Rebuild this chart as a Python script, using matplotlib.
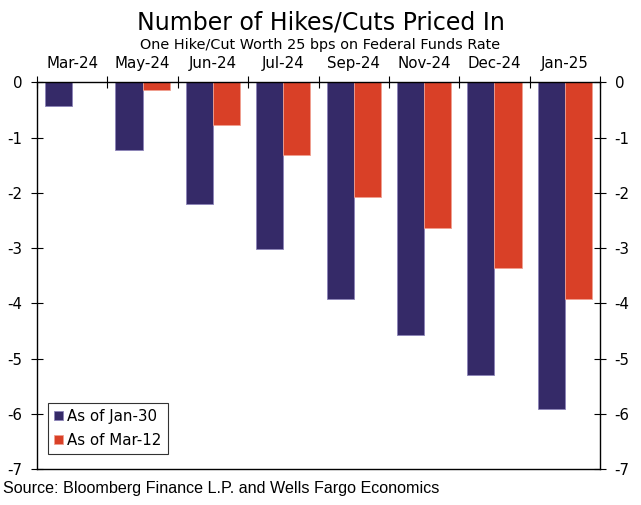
import numpy as np
import matplotlib.pyplot as plt

# data
categories = ['Mar-24', 'May-24', 'Jun-24', 'Jul-24', 'Sep-24', 'Nov-24', 'Dec-24', 'Jan-25']
jan30 = [-0.42, -1.23, -2.20, -3.02, -3.93, -4.58, -5.29, -5.92]
mar12 = [0.0, -0.14, -0.77, -1.32, -2.08, -2.63, -3.36, -3.93]
series_labels = ['As of Jan-30', 'As of Mar-12']

blue = '#352a68'
red = '#d94027'

plt.rcParams['axes.unicode_minus'] = False

fig = plt.figure(figsize=(6.41, 5.05), dpi=100)
ax = fig.add_axes([37 / 641, 1 - 469 / 505, 563 / 641, (469 - 82.3) / 505])

x = np.arange(len(categories))
w = 0.385
ax.bar(x - w / 2, jan30, w, color=blue, edgecolor='#8c84b8', linewidth=0.6, label=series_labels[0])
ax.bar(x + w / 2, mar12, w, color=red, edgecolor='#f0a090', linewidth=0.6, label=series_labels[1])

ax.set_xlim(-0.5, len(categories) - 0.5)
ax.set_ylim(-7, 0)

# category labels above, ticks at boundaries
ax.xaxis.tick_top()
ax.set_xticks(x)
ax.set_xticklabels(categories, fontsize=10.8)
ax.tick_params(axis='x', which='major', length=0, pad=8)
ax.set_xticks(np.arange(len(categories) + 1) - 0.5, minor=True)
ax.tick_params(axis='x', which='minor', direction='inout', length=9, width=0.8, top=True)

ax.set_yticks(np.arange(-7, 1))
ax.tick_params(axis='y', direction='inout', length=9, width=0.8, labelsize=10.8,
               left=True, right=True, labelleft=True, labelright=True, pad=6)
for s in ax.spines.values():
    s.set_linewidth(1.0)

leg = ax.legend(loc='lower left', bbox_to_anchor=(0.006, 0.02), fontsize=10.8,
                handlelength=0.6, handleheight=0.6, handletextpad=0.3,
                fancybox=False, edgecolor='black', borderpad=0.4, labelspacing=0.6)
leg.get_frame().set_linewidth(0.8)

fig.text(0.5, 1 - 22 / 505, 'Number of Hikes/Cuts Priced In', ha='center', va='center', fontsize=17)
fig.text(0.5, 1 - 45 / 505, 'One Hike/Cut Worth 25 bps on Federal Funds Rate', ha='center', va='center', fontsize=10.4)
fig.text(3 / 641, 1 - 489 / 505, 'Source: Bloomberg Finance L.P. and Wells Fargo Economics',
         ha='left', va='center', fontsize=11.6, family='Liberation Sans')

fig.savefig('out.png', dpi=100)
